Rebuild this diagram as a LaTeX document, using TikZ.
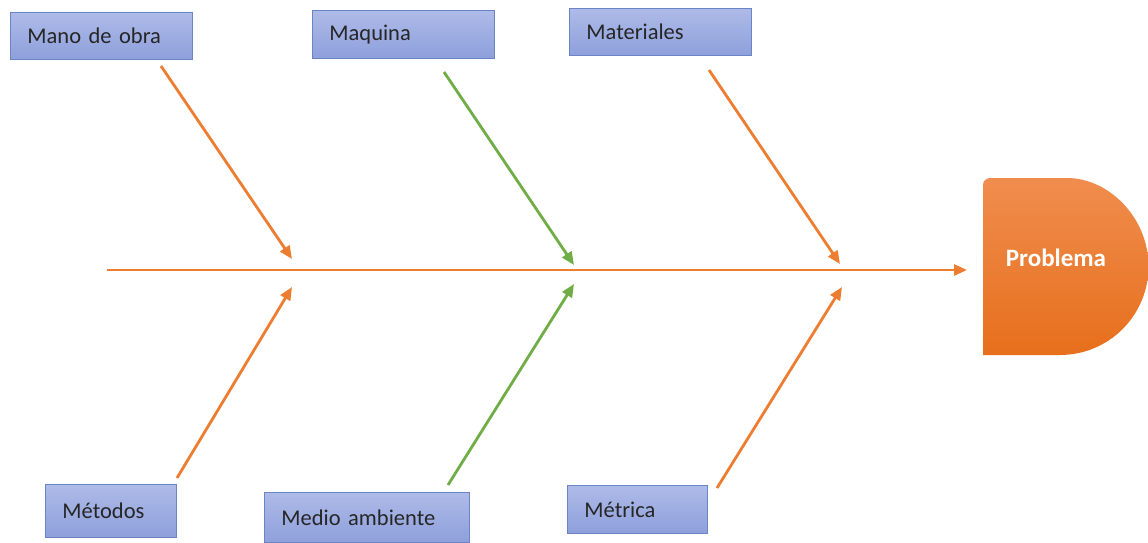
\documentclass[tikz,border=0pt]{standalone}
\usepackage{fontspec}
\setmainfont{Carlito}
\usetikzlibrary{arrows.meta}
\definecolor{accent}{HTML}{ED7D31}
\definecolor{leaf}{HTML}{70AD47}
\definecolor{boxtop}{HTML}{AEBBE8}
\definecolor{boxbot}{HTML}{8E9FDB}
\definecolor{boxline}{HTML}{6A85C4}
\definecolor{probtop}{HTML}{F08D4E}
\definecolor{probbot}{HTML}{E76F1C}
\tikzset{
  cause/.style={draw=boxline, line width=0.9pt, top color=boxtop, bottom color=boxbot,
    anchor=north west, align=left, inner xsep=17pt, inner ysep=0pt,
    font=\fontsize{22.5}{26}\selectfont, text=black!85},
  bone/.style={line width=2.8pt, -{Triangle[length=13pt,width=11pt]}},
}
\begin{document}
\begin{tikzpicture}[x=1pt,y=-1pt]
\useasboundingbox (0,0) rectangle (1148,543);

% effect head
\shade[top color=probtop, bottom color=probbot, rounded corners=7pt]
  (983,355) -- (983,178) -- (1060,178) [sharp corners] arc(-90:90:88.5) -- cycle;
\node[text=white, font=\fontsize{25}{29}\selectfont\bfseries] (prob) at (1056,258) {Problema};
\coordinate (head) at (967,270);

% cause boxes
\node[cause, text width=148pt, minimum height=47pt] (mano) at (10,12) {Mano de obra};
\node[cause, text width=148pt, minimum height=48pt] (maq) at (312,10) {Maquina};
\node[cause, text width=148pt, minimum height=47pt] (mat) at (569,8) {Materiales};
\node[cause, text width=97pt, minimum height=53pt] (met) at (45,484) {Métodos};
\node[cause, text width=171pt, minimum height=50pt] (med) at (264,492) {Medio ambiente};
\node[cause, text width=106pt, minimum height=48pt] (metr) at (567,485) {Métrica};

% spine
\coordinate (tail) at (107,270);
\draw[accent, bone] (tail) -- (head);

% bone ends
\coordinate (s1) at (161,66);  \coordinate (t1) at (292,259);
\coordinate (s2) at (444,72);  \coordinate (t2) at (574,265);
\coordinate (s3) at (709,70);  \coordinate (t3) at (840,264);
\coordinate (s4) at (177,478); \coordinate (t4) at (292,287);
\coordinate (s5) at (448,485); \coordinate (t5) at (574,284);
\coordinate (s6) at (717,488); \coordinate (t6) at (842,287);

\draw[bone, accent] (s1) -- (t1);
\draw[bone, leaf]   (s2) -- (t2);
\draw[bone, accent] (s3) -- (t3);
\draw[bone, accent] (s4) -- (t4);
\draw[bone, leaf]   (s5) -- (t5);
\draw[bone, accent] (s6) -- (t6);
\end{tikzpicture}
\end{document}
